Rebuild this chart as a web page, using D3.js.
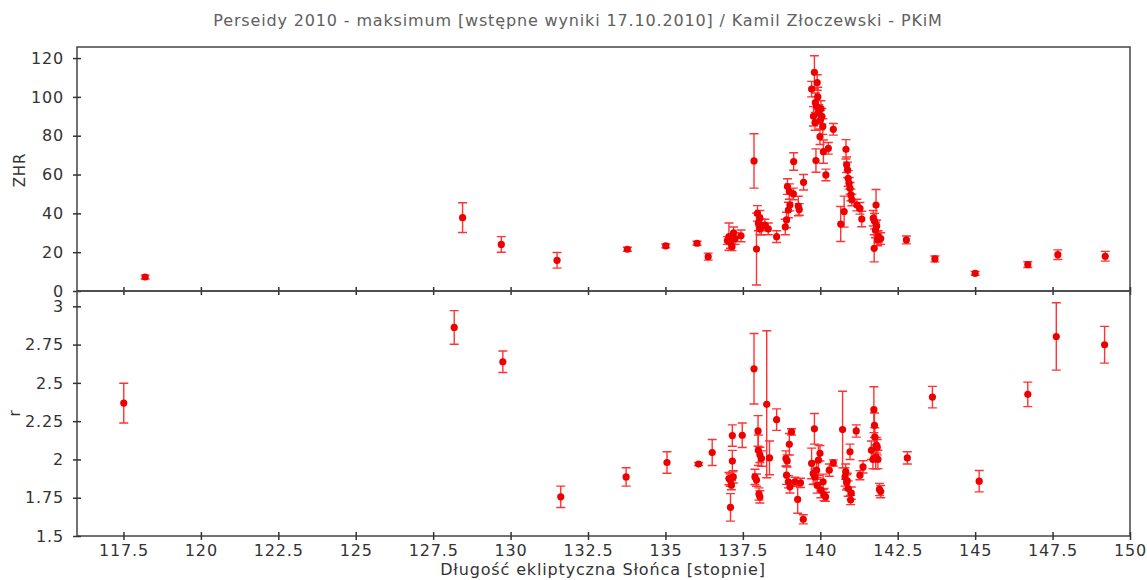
<!DOCTYPE html>
<html>
<head>
<meta charset="utf-8">
<script src="https://cdn.jsdelivr.net/npm/d3@7"></script>
<style>
  body { margin: 0; background: #fff; }
  text { font-family: "DejaVu Sans", sans-serif; letter-spacing: 0.85px; }
</style>
</head>
<body>
<script>
const width = 1147,
    height = 580

// ZHR panel
const zhrLambda = [118.2, 128.45, 129.7, 131.5, 133.77, 135.01, 136.02, 136.38,
    137.0, 137.05, 137.1, 137.15, 137.2, 137.25, 137.44, 137.86, 137.94, 137.97,
    138.0, 138.05, 138.05, 138.1, 138.21, 138.32, 138.59, 138.87, 138.91, 138.94,
    138.97, 139.0, 139.02, 139.13, 139.14, 139.29, 139.32, 139.46, 139.72, 139.78,
    139.81, 139.83, 139.84, 139.86, 139.88, 139.9, 139.92, 139.95, 139.99, 140.0,
    140.02, 140.05, 140.08, 140.1, 140.18, 140.26, 140.42, 140.66, 140.77, 140.83,
    140.85, 140.88, 140.9, 140.93, 140.96, 140.99, 141.02, 141.18, 141.28, 141.34,
    141.71, 141.74, 141.75, 141.8, 141.82, 141.78, 141.87, 141.95, 141.85,
    142.78, 143.7, 145.0, 146.7, 147.67, 149.2]
const zhrValues = [7.2, 37.8, 24, 15.8, 21.5, 23.2, 24.6, 17.7,
    26, 28, 25, 22.8, 30, 27, 28.4, 67, 21.6, 40,
    35, 37.5, 32, 33, 34, 32, 28, 33, 36.6, 53.8,
    41.7, 51.2, 44.3, 50, 66.7, 43.8, 42, 56, 104, 90,
    112.7, 86.8, 97, 67.2, 95, 107.4, 100, 92, 79.5, 88,
    94, 90, 84.7, 71.8, 59.8, 73.5, 83.3, 34.5, 40.9, 73,
    65, 62.4, 58, 55.5, 52.9, 49.5, 46.9, 44.3, 42.6, 37.1,
    37.5, 22, 36, 44.3, 33.5, 31.4, 28, 27, 26.3,
    26.3, 16.5, 9.1, 13.6, 18.7, 17.9]
const zhrErrors = [1, 7.7, 4, 4, 1, 1, 1, 1.8,
    2, 7, 3, 2, 3, 3, 3, 14, 18.5, 4,
    4, 4, 3, 4, 3, 3, 3, 4, 4, 4,
    4, 4, 3, 3, 4.5, 5, 3, 4, 4, 5,
    8.5, 4, 5, 6, 5, 4, 5, 4, 4, 5,
    4, 4, 4, 6, 3, 3, 3, 9, 8, 5,
    4, 4, 4, 3, 3, 3, 3, 3, 3, 4,
    4, 7, 4, 8, 3, 4, 3, 3, 3,
    2, 1.5, 1, 1.5, 2.5, 2.5]

// r panel
const rLambda = [117.51, 128.18, 129.75, 131.62, 133.73, 135.05, 136.07, 136.51,
    137.05, 137.09, 137.1, 137.13, 137.16, 137.16, 137.19, 137.48, 137.86, 137.89,
    137.94, 137.99, 138.0, 138.02, 138.05, 138.05, 138.1, 138.27, 138.36, 138.59,
    138.89, 138.91, 138.93, 138.97, 139.0, 139.02, 139.07, 139.18, 139.27, 139.36,
    139.45, 139.72, 139.77, 139.81, 139.83, 139.88, 139.9, 139.94, 139.99, 140.02,
    140.09, 140.12, 140.17, 140.29, 140.42, 140.72, 140.8, 140.82, 140.85, 140.87,
    140.9, 140.96, 140.98, 141.0, 141.16, 141.28, 141.38, 141.65, 141.7, 141.73,
    141.75, 141.76, 141.79, 141.81, 141.84, 141.86, 141.91, 141.95,
    142.81, 143.62, 145.13, 146.7, 147.62, 149.18]
const rValues = [2.368, 2.862, 2.638, 1.756, 1.886, 1.98, 1.97, 2.045,
    1.875, 1.865, 1.687, 1.832, 1.989, 2.156, 1.886, 2.158, 2.592, 1.886,
    1.865, 2.186, 2.06, 1.774, 2.03, 1.756, 2.006, 2.36, 2.01, 2.26,
    2.006, 1.897, 1.99, 1.854, 2.099, 1.821, 2.18, 1.854, 1.739, 1.847,
    1.609, 1.974, 1.908, 2.2, 1.886, 1.93, 1.83, 1.995, 2.04, 1.8,
    1.854, 1.77, 1.756, 1.93, 1.977, 2.195, 1.886, 1.92, 1.85, 1.86,
    1.81, 2.05, 1.735, 1.78, 2.186, 1.897, 1.951, 2.06, 2.0, 2.325,
    2.223, 2.147, 2.017, 2.093, 2.08, 2.0, 1.804, 1.79,
    2.01, 2.407, 1.858, 2.425, 2.803, 2.749]
const rErrors = [0.13, 0.11, 0.07, 0.07, 0.06, 0.07, 0.01, 0.085,
    0.04, 0.04, 0.09, 0.03, 0.07, 0.07, 0.04, 0.08, 0.23, 0.05,
    0.04, 0.1, 0.1, 0.04, 0.05, 0.04, 0.05, 0.48, 0.11, 0.07,
    0.05, 0.06, 0.04, 0.04, 0.07, 0.04, 0.02, 0.03, 0.09, 0.03,
    0.03, 0.1, 0.07, 0.1, 0.05, 0.06, 0.05, 0.1, 0.05, 0.05,
    0.05, 0.04, 0.03, 0.04, 0.02, 0.25, 0.06, 0.05, 0.05, 0.05,
    0.05, 0.05, 0.03, 0.04, 0.04, 0.03, 0.04, 0.06, 0.06, 0.15,
    0.08, 0.06, 0.08, 0.05, 0.05, 0.06, 0.04, 0.04,
    0.04, 0.07, 0.07, 0.08, 0.22, 0.12]

const xTicks = [117.5, 120, 122.5, 125, 127.5, 130, 132.5, 135, 137.5, 140, 142.5, 145, 147.5, 150]
const zhrTicks = [0, 20, 40, 60, 80, 100, 120]
const rTicks = [1.5, 1.75, 2, 2.25, 2.5, 2.75, 3]

const left = 77, right = 1130,
    topY = 47, midY = 291, bottomY = 536

const x = d3.scaleLinear().domain([116, 150]).range([left, right])
const yZhr = d3.scaleLinear().domain([0, 125.7]).range([midY, topY])
const yR = d3.scaleLinear().domain([1.5, 3.1]).range([bottomY, midY])

const svg = d3.select("body")
    .append("svg")
    .attr("width", width)
    .attr("height", height)

svg.append("text")
    .attr("x", 578)
    .attr("y", 26)
    .attr("text-anchor", "middle")
    .style("font-size", "16px")
    .attr("fill", "#606060")
    .text("Perseidy 2010 - maksimum [wstępne wyniki 17.10.2010] / Kamil Złoczewski - PKiM")

function panel(lambda, values, errors, y, yTicks, showXLabels) {
    const g = svg.append("g")
    const [y0, y1] = y.range()

    g.append("rect")
        .attr("x", left)
        .attr("y", y1)
        .attr("width", right - left)
        .attr("height", y0 - y1)
        .attr("fill", "none")
        .attr("stroke", "#444")
        .attr("stroke-width", 1.5)

    const pts = lambda.map((l, i) => ({ l: l, v: values[i], e: errors[i] }))
    const cap = 4.5

    const bars = g.append("g")
        .attr("stroke", "#f33")
        .attr("stroke-width", 1.4)
        .attr("fill", "none")
    bars.selectAll("path")
        .data(pts)
        .join("path")
        .attr("d", d => {
            const cx = x(d.l), lo = y(d.v - d.e), hi = y(d.v + d.e)
            return `M${cx - cap},${hi}H${cx + cap}M${cx},${hi}V${lo}M${cx - cap},${lo}H${cx + cap}`
        })

    g.append("g")
        .selectAll("circle")
        .data(pts)
        .join("circle")
        .attr("cx", d => x(d.l))
        .attr("cy", d => y(d.v))
        .attr("r", 3.6)
        .attr("fill", "#e00")

    const ya = g.append("g")
        .attr("transform", `translate(${left},0)`)
        .call(d3.axisLeft(y).tickValues(yTicks).tickFormat(d => String(d)).tickSize(4).tickPadding(9))
    ya.select(".domain").remove()
    ya.selectAll(".tick line").attr("x2", 4).attr("x1", -4).attr("stroke", "#333").attr("stroke-width", 1.5)
    ya.selectAll(".tick text").attr("fill", "#333").style("font-size", "16px").attr("font-family", null)

    const xa = g.append("g")
        .attr("transform", `translate(0,${y0})`)
        .call(d3.axisBottom(x).tickValues(xTicks).tickFormat(d => String(d)).tickSize(4).tickPadding(5))
    xa.select(".domain").remove()
    xa.selectAll(".tick line").attr("y1", -4).attr("y2", 4).attr("stroke", "#333").attr("stroke-width", 1.5)
    xa.selectAll(".tick text").attr("fill", "#333").style("font-size", "16px").attr("font-family", null)
    if (!showXLabels) xa.selectAll(".tick text").remove()
}

panel(zhrLambda, zhrValues, zhrErrors, yZhr, zhrTicks, false)
panel(rLambda, rValues, rErrors, yR, rTicks, true)

svg.append("text")
    .attr("transform", `translate(25,170) rotate(-90)`)
    .attr("text-anchor", "middle")
    .style("font-size", "15px")
    .attr("fill", "#333")
    .text("ZHR")

svg.append("text")
    .attr("transform", `translate(20,413) rotate(-90)`)
    .attr("text-anchor", "middle")
    .style("font-size", "15px")
    .attr("fill", "#333")
    .text("r")

svg.append("text")
    .attr("x", 603)
    .attr("y", 575)
    .attr("text-anchor", "middle")
    .style("font-size", "16px")
    .attr("fill", "#333")
    .text("Długość ekliptyczna Słońca [stopnie]")
</script>
</body>
</html>
